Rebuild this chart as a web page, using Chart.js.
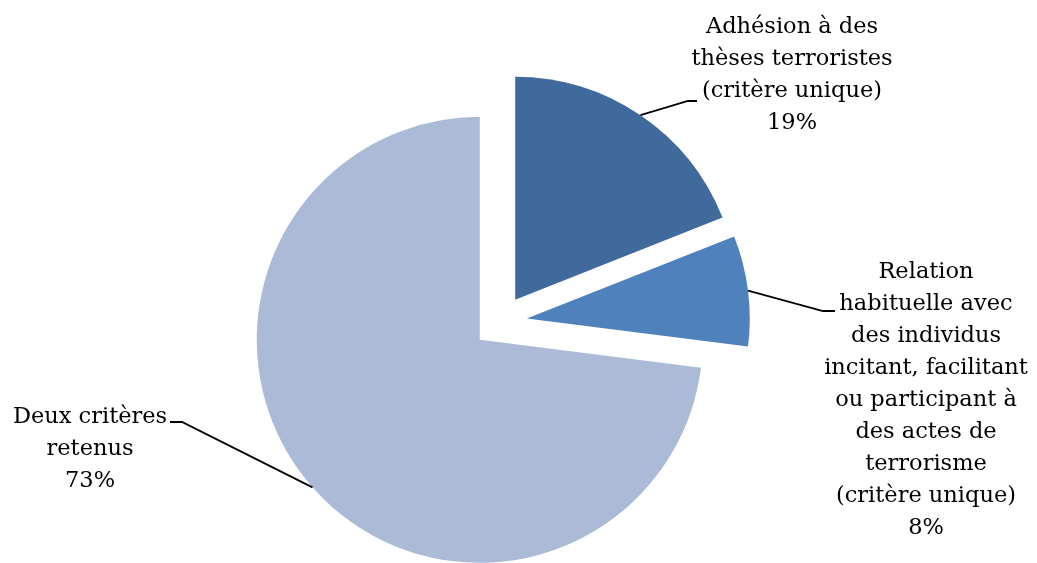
<!DOCTYPE html>
<html lang="fr">
<head>
<meta charset="utf-8">
<title>Critères retenus</title>
<script src="https://cdn.jsdelivr.net/npm/chart.js@4.4.1/dist/chart.umd.min.js"></script>
<style>
  html, body { margin: 0; padding: 0; background: #fff; }
  canvas { display: block; }
</style>
</head>
<body>
<canvas id="chart" width="1037" height="563"></canvas>
<script>
// Data
const categories = [
  ['Adhésion à des', 'thèses terroristes', '(critère unique)'],
  ['Relation', 'habituelle avec', 'des individus', 'incitant, facilitant', 'ou participant à', 'des actes de', 'terrorisme', '(critère unique)'],
  ['Deux critères', 'retenus']
];
const shares = [19, 8, 73];
const sliceColors = ['#416a9c', '#4f81bd', '#aabad7'];

// Label boxes: center x, first baseline, and the elbow of the leader line
const labelLayout = [
  { x: 792, y: 33,  elbow: [688, 101], end: [697, 101] },
  { x: 926, y: 278, elbow: [823, 311], end: [835, 311] },
  { x: 90,  y: 423, elbow: [182, 422], end: [170, 422] }
];
const EXPLODE = 27;       // px each slice is pulled out from the centre
const LINE_HEIGHT = 32;
const FONT = '22.5px "DejaVu Serif"';

// pull every slice out along its mid angle
const explodePlugin = {
  id: 'explode',
  afterDatasetUpdate(chart, args) {
    args.meta.data.forEach(arc => {
      const mid = (arc.startAngle + arc.endAngle) / 2;
      arc.x += Math.cos(mid) * EXPLODE;
      arc.y += Math.sin(mid) * EXPLODE;
    });
  }
};

// category name + percentage, with a leader line to the slice edge
const labelPlugin = {
  id: 'sliceLabels',
  afterDatasetsDraw(chart) {
    const ctx = chart.ctx;
    const arcs = chart.getDatasetMeta(0).data;
    ctx.save();
    ctx.font = FONT;
    ctx.fillStyle = '#000';
    ctx.textAlign = 'center';
    ctx.textBaseline = 'alphabetic';
    ctx.strokeStyle = '#000';
    ctx.lineWidth = 1.8;
    arcs.forEach((arc, i) => {
      const pos = labelLayout[i];
      const mid = (arc.startAngle + arc.endAngle) / 2;
      const sx = arc.x + Math.cos(mid) * arc.outerRadius;
      const sy = arc.y + Math.sin(mid) * arc.outerRadius;
      ctx.beginPath();
      ctx.moveTo(sx, sy);
      ctx.lineTo(pos.elbow[0], pos.elbow[1]);
      ctx.lineTo(pos.end[0], pos.end[1]);
      ctx.stroke();

      const lines = categories[i].concat([shares[i] + '%']);
      lines.forEach((txt, k) => {
        ctx.fillText(txt, pos.x, pos.y + k * LINE_HEIGHT);
      });
    });
    ctx.restore();
  }
};

new Chart(document.getElementById('chart'), {
  type: 'pie',
  data: {
    labels: categories,
    datasets: [{
      data: shares,
      backgroundColor: sliceColors,
      borderWidth: 0,
      radius: 223
    }]
  },
  options: {
    responsive: false,
    devicePixelRatio: 1,
    animation: false,
    layout: { padding: { left: 0, right: 37, top: 81, bottom: 0 } },
    plugins: {
      legend: { display: false },
      tooltip: { enabled: false }
    }
  },
  plugins: [explodePlugin, labelPlugin]
});
</script>
</body>
</html>
